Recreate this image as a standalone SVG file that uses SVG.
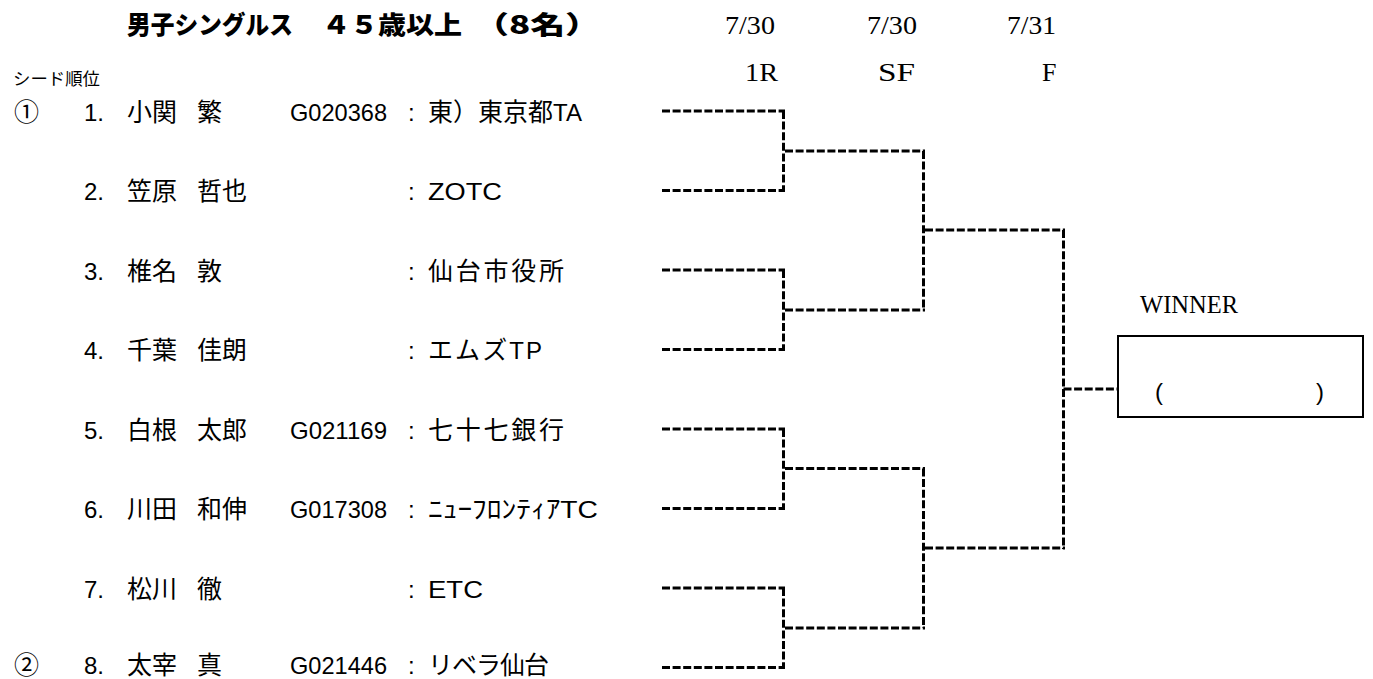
<svg xmlns="http://www.w3.org/2000/svg" width="1373" height="679" viewBox="0 0 1373 679">
<style>
.bg{fill:#fff}
.jp{font-family:"Noto Sans CJK JP","Liberation Sans",sans-serif;font-size:25px;fill:#000}
.la{font-family:"Liberation Sans","Noto Sans CJK JP",sans-serif;font-size:24px;fill:#000}
.title{font-family:"Noto Sans CJK JP",sans-serif;font-size:25px;font-weight:900;fill:#000}
.sr{font-family:"Liberation Serif","DejaVu Serif",serif;font-size:26px;fill:#000}
.small{font-family:"Noto Sans CJK JP",sans-serif;font-size:17px;fill:#000}
.dl{fill:none;stroke:#000;stroke-width:3;stroke-dasharray:8 2.6}
.box{fill:#fff;stroke:#000;stroke-width:2}
</style>
<rect class="bg" x="0" y="0" width="1373" height="679"/>
<g id="header">
<text class="title" x="127" y="34" textLength="166" lengthAdjust="spacingAndGlyphs">男子シングルス</text>
<text class="title" x="322" y="34" textLength="140" lengthAdjust="spacingAndGlyphs">４５歳以上</text>
<text class="title" x="474" y="34" textLength="126" lengthAdjust="spacingAndGlyphs">（8名）</text>
<text class="small" x="13" y="85" textLength="87" lengthAdjust="spacingAndGlyphs">シード順位</text>
<text class="sr" x="725" y="34" textLength="50" lengthAdjust="spacingAndGlyphs">7/30</text>
<text class="sr" x="867" y="34" textLength="50" lengthAdjust="spacingAndGlyphs">7/30</text>
<text class="sr" x="1007" y="34" textLength="49" lengthAdjust="spacingAndGlyphs">7/31</text>
<text class="sr" x="745" y="81" textLength="33" lengthAdjust="spacingAndGlyphs">1R</text>
<text class="sr" x="878" y="81" textLength="37" lengthAdjust="spacingAndGlyphs">SF</text>
<text class="sr" x="1042" y="81">F</text>
</g>
<g id="p1">
<text class="jp" x="14" y="120.5">①</text>
<text class="la" x="84" y="120.5">1.</text>
<text class="jp" x="127" y="120.5">小関</text>
<text class="jp" x="197" y="120.5">繁</text>
<text class="la" x="290" y="120.5" textLength="97" lengthAdjust="spacingAndGlyphs">G020368</text>
<text class="la" x="408" y="120.5">:</text>
<text class="jp" x="428" y="120.5" textLength="154">東）東京都<tspan class="la">TA</tspan></text>
</g>
<g id="p2">
<text class="la" x="84" y="200">2.</text>
<text class="jp" x="127" y="200">笠原</text>
<text class="jp" x="197" y="200">哲也</text>
<text class="la" x="408" y="200">:</text>
<text class="la" x="428" y="200" textLength="74" lengthAdjust="spacingAndGlyphs">ZOTC</text>
</g>
<g id="p3">
<text class="la" x="84" y="279.5">3.</text>
<text class="jp" x="127" y="279.5">椎名</text>
<text class="jp" x="197" y="279.5">敦</text>
<text class="la" x="408" y="279.5">:</text>
<text class="jp" x="428" y="279.5" textLength="136">仙台市役所</text>
</g>
<g id="p4">
<text class="la" x="84" y="359">4.</text>
<text class="jp" x="127" y="359">千葉</text>
<text class="jp" x="197" y="359">佳朗</text>
<text class="la" x="408" y="359">:</text>
<text class="jp" x="428" y="359" textLength="114">エムズ<tspan class="la">TP</tspan></text>
</g>
<g id="p5">
<text class="la" x="84" y="438.5">5.</text>
<text class="jp" x="127" y="438.5">白根</text>
<text class="jp" x="197" y="438.5">太郎</text>
<text class="la" x="290" y="438.5" textLength="97" lengthAdjust="spacingAndGlyphs">G021169</text>
<text class="la" x="408" y="438.5">:</text>
<text class="jp" x="428" y="438.5" textLength="136">七十七銀行</text>
</g>
<g id="p6">
<text class="la" x="84" y="518">6.</text>
<text class="jp" x="127" y="518">川田</text>
<text class="jp" x="197" y="518">和伸</text>
<text class="la" x="290" y="518" textLength="97" lengthAdjust="spacingAndGlyphs">G017308</text>
<text class="la" x="408" y="518">:</text>
<text class="jp" x="428" y="518" textLength="170" lengthAdjust="spacingAndGlyphs">ﾆｭｰﾌﾛﾝﾃｨｱ<tspan class="la">TC</tspan></text>
</g>
<g id="p7">
<text class="la" x="84" y="597.5">7.</text>
<text class="jp" x="127" y="597.5">松川</text>
<text class="jp" x="197" y="597.5">徹</text>
<text class="la" x="408" y="597.5">:</text>
<text class="la" x="428" y="597.5" textLength="55" lengthAdjust="spacingAndGlyphs">ETC</text>
</g>
<g id="p8">
<text class="jp" x="14" y="674">②</text>
<text class="la" x="84" y="674">8.</text>
<text class="jp" x="127" y="674">太宰</text>
<text class="jp" x="197" y="674">真</text>
<text class="la" x="290" y="674" textLength="97" lengthAdjust="spacingAndGlyphs">G021446</text>
<text class="la" x="408" y="674">:</text>
<text class="jp" x="428" y="674" textLength="121">リベラ仙台</text>
</g>
<g id="connectors">
<path class="dl" d="M662 111H785M783.5 111V190.5M662 190.5H785"/>
<path class="dl" d="M662 270H785M783.5 270V349.5M662 349.5H785"/>
<path class="dl" d="M662 429H785M783.5 429V508.5M662 508.5H785"/>
<path class="dl" d="M662 588H785M783.5 588V667.5M662 667.5H785"/>
<path class="dl" d="M785 151H925M923.5 151V310M785 310H925"/>
<path class="dl" d="M785 468.5H925M923.5 468.5V628M785 628H925"/>
<path class="dl" d="M925 230H1065M1063.5 230V549M925 548H1065"/>
<path class="dl" d="M1063.5 389H1118"/>
</g>
<g id="winner">
<text class="sr" x="1140" y="313" font-size="29" textLength="98" lengthAdjust="spacingAndGlyphs">WINNER</text>
<rect class="box" x="1118" y="336" width="245" height="81"/>
<text class="la" x="1155" y="400" font-size="22">(</text>
<text class="la" x="1316" y="400" font-size="22">)</text>
</g>
</svg>
